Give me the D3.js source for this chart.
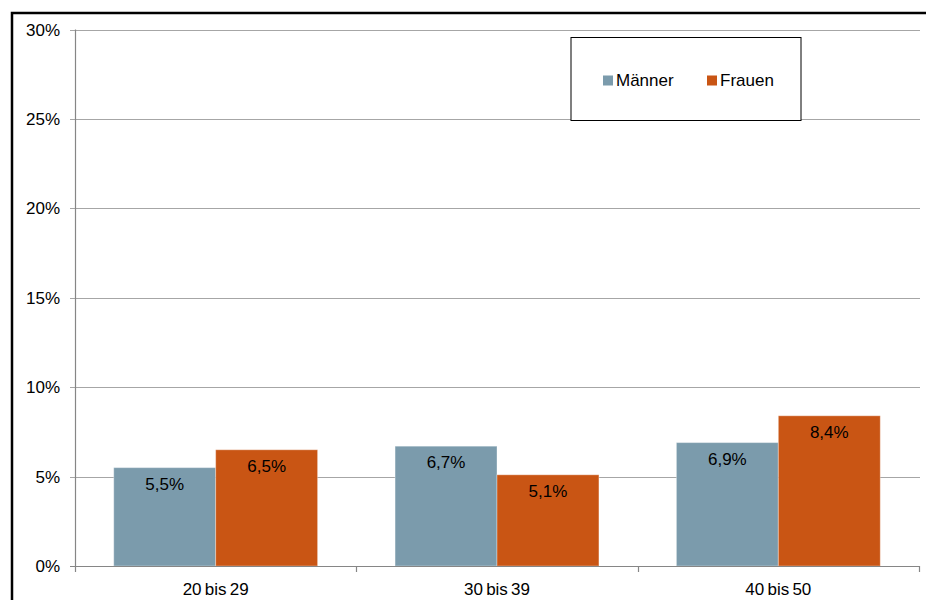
<!DOCTYPE html>
<html>
<head>
<meta charset="utf-8">
<script src="https://cdn.jsdelivr.net/npm/d3@7/dist/d3.min.js"></script>
<style>
  html, body { margin: 0; padding: 0; background: #fff; }
  svg { display: block; font-family: "Liberation Sans", Arial, sans-serif; }
</style>
</head>
<body>
<svg id="chart" width="926" height="600"></svg>
<script>
const categories = ["20 bis 29", "30 bis 39", "40 bis 50"];
const seriesNames = ["Männer", "Frauen"];
const maenner = [5.5, 6.7, 6.9];
const frauen = [6.5, 5.1, 8.4];
const yTicks = [0, 5, 10, 15, 20, 25, 30];
const colors = ["#7B9BAC", "#C95514"];

(function () {
const svg = d3.select("#chart");
const W = 926, H = 600;
const pLeft = 75, pRight = 919, pTop = 29.5, pBottom = 566;
const fs = 17;

// outer frame (left and top)
svg.append("path")
  .attr("d", `M12,${H} L12,13 L${W},13`)
  .attr("fill", "none").attr("stroke", "#000").attr("stroke-width", 2.5);

const x0 = d3.scaleBand().domain(categories).range([pLeft, pRight]).paddingInner(0).paddingOuter(0);
const x1 = d3.scaleBand().domain(seriesNames).range([0, x0.bandwidth()]).paddingInner(0).paddingOuter(0.38);
const y = d3.scaleLinear().domain([0, 30]).range([pBottom, pTop]);

// gridlines
svg.append("g").selectAll("line").data(yTicks.filter(t => t > 0)).join("line")
  .attr("x1", pLeft - 5).attr("x2", pRight + 1)
  .attr("y1", d => Math.round(y(d)) + 0.5).attr("y2", d => Math.round(y(d)) + 0.5)
  .attr("stroke", "#A6A6A6").attr("stroke-width", 1);

// y tick labels
svg.append("g").selectAll("text").data(yTicks).join("text")
  .attr("x", 60).attr("y", d => y(d))
  .attr("dy", "0.36em")
  .attr("text-anchor", "end")
  .attr("font-size", fs).attr("fill", "#000")
  .text(d => d + "%");

// bars
const data = categories.map((c, i) => ({ cat: c, vals: [maenner[i], frauen[i]] }));
const groups = svg.append("g").selectAll("g").data(data).join("g")
  .attr("transform", d => `translate(${x0(d.cat)},0)`);

groups.selectAll("rect").data(d => d.vals.map((v, j) => ({ s: seriesNames[j], v, j }))).join("rect")
  .attr("x", d => x1(d.s))
  .attr("width", x1.bandwidth())
  .attr("y", d => y(d.v))
  .attr("height", d => y(0) - y(d.v))
  .attr("fill", d => colors[d.j])
  .attr("stroke", "#ffffff").attr("stroke-opacity", 0.35).attr("stroke-width", 1);

groups.selectAll("text").data(d => d.vals.map((v, j) => ({ s: seriesNames[j], v, j }))).join("text")
  .attr("x", d => x1(d.s) + x1.bandwidth() / 2)
  .attr("y", d => y(d.v) + 22)
  .attr("text-anchor", "middle")
  .attr("font-size", fs).attr("fill", "#000")
  .text(d => d.v.toFixed(1).replace(".", ",") + "%");

// axes
const axisColor = "#868686";
svg.append("line").attr("x1", pLeft + 0.5).attr("x2", pLeft + 0.5).attr("y1", pTop).attr("y2", pBottom + 6)
  .attr("stroke", axisColor).attr("stroke-width", 1.2);
svg.append("line").attr("x1", pLeft - 5).attr("x2", pRight + 1).attr("y1", pBottom + 0.5).attr("y2", pBottom + 0.5)
  .attr("stroke", axisColor).attr("stroke-width", 1.2);
// category boundary ticks
const bounds = categories.map(c => x0(c)).concat([pRight]).slice(1);
svg.append("g").selectAll("line").data(bounds).join("line")
  .attr("x1", d => Math.round(d) + 0.5).attr("x2", d => Math.round(d) + 0.5)
  .attr("y1", pBottom).attr("y2", pBottom + 6)
  .attr("stroke", axisColor).attr("stroke-width", 1.2);

// category labels
svg.append("g").selectAll("text").data(categories).join("text")
  .attr("x", d => x0(d) + x0.bandwidth() / 2)
  .attr("y", 595)
  .attr("text-anchor", "middle")
  .attr("word-spacing", -1.5)
  .attr("font-size", fs).attr("fill", "#000")
  .text(d => d);

// legend
const lg = svg.append("g");
lg.append("rect").attr("x", 571).attr("y", 37.5).attr("width", 230).attr("height", 83)
  .attr("fill", "#fff").attr("stroke", "#000").attr("stroke-width", 1);
const legendPos = [603, 707];
seriesNames.forEach((s, i) => {
  lg.append("rect").attr("x", legendPos[i]).attr("y", 75.5).attr("width", 10).attr("height", 10)
    .attr("fill", colors[i]);
  lg.append("text").attr("x", legendPos[i] + 13).attr("y", 86)
    .attr("font-size", fs).attr("fill", "#000").text(s);
});
})();
</script>
</body>
</html>
